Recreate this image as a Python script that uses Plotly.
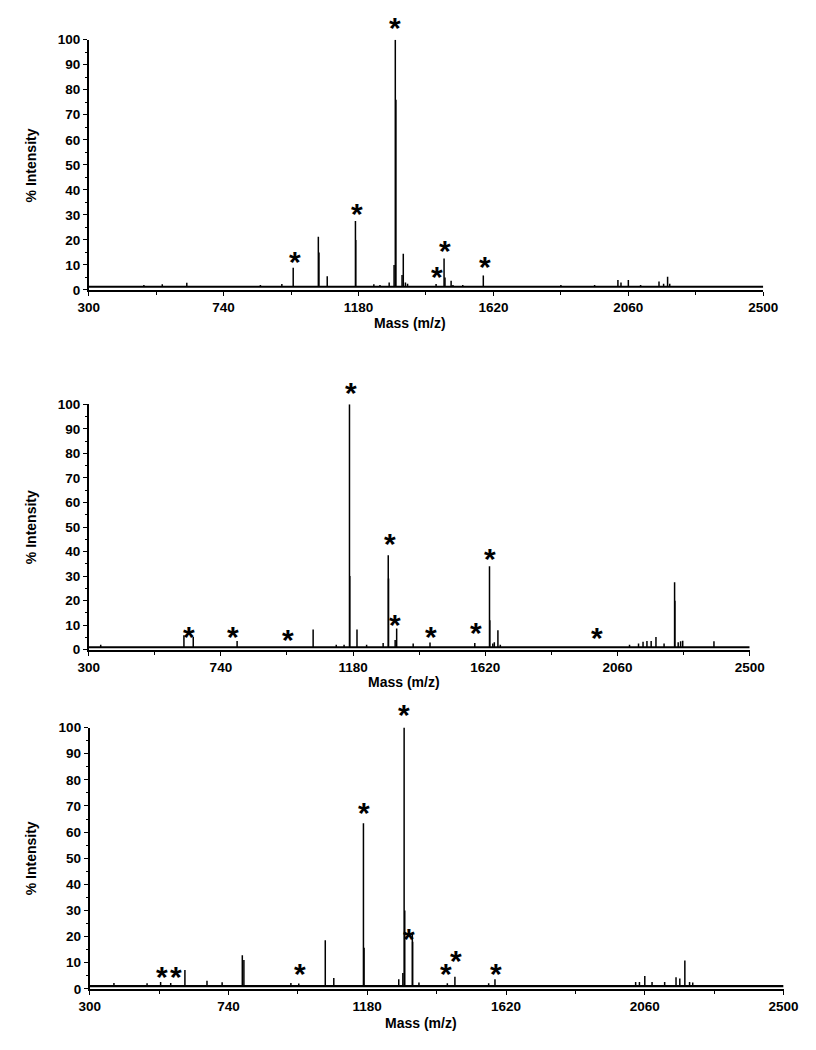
import plotly.graph_objects as go

# The page body has an 8px default margin, so the figure is drawn 8px in from the
# top-left corner of the window; page pixel positions are converted accordingly.
OFF = 8
W, H = 816 - OFF, 1050 - OFF
FONT = "Liberation Sans, Arial, sans-serif"

# ---------------- data ----------------
x_ticks = [300, 740, 1180, 1620, 2060, 2500]
x_minor = [520, 960, 1400, 1840, 2280]
y_ticks = [0, 10, 20, 30, 40, 50, 60, 70, 80, 90, 100]

# Panel 1
p1_mz = [480, 540, 620, 860, 930, 967, 1049, 1051, 1078, 1170, 1171, 1230, 1250, 1280,
         1296, 1300, 1302, 1322, 1326, 1333, 1340, 1433, 1459, 1462, 1482, 1488, 1520,
         1587, 1840, 1950, 2026, 2036, 2060, 2100, 2160, 2175, 2188, 2195]
p1_int = [2.0, 2.3, 2.9, 2.0, 2.4, 8.9, 21.3, 15.0, 5.5, 27.6, 20.0, 2.3, 2.0, 3.0,
          10.0, 100.0, 76.0, 6.0, 14.5, 3.0, 2.5, 2.4, 12.6, 5.0, 3.7, 2.0, 2.0,
          5.8, 2.0, 2.0, 4.0, 3.0, 4.0, 2.0, 3.4, 2.5, 5.3, 2.5]
p1_star_mz = [973, 1174, 1300, 1436, 1463, 1591]
p1_star_int = [13.7, 33.0, 107.4, 7.9, 18.3, 11.7]
p1_base = 1.3

# Panel 2
p2_mz = [340, 617, 648, 794, 1047, 1124, 1150, 1168, 1169, 1193, 1225, 1280, 1297, 1298,
         1320, 1325, 1380, 1436, 1585, 1634, 1635, 1645, 1650, 1662, 1670, 2100, 2130,
         2145, 2158, 2172, 2188, 2215, 2250, 2251, 2262, 2270, 2277, 2381]
p2_int = [2.0, 5.9, 5.2, 3.6, 8.2, 2.0, 2.0, 100.0, 30.0, 8.2, 2.0, 2.7, 38.5, 29.0,
          4.0, 8.6, 2.5, 2.9, 2.7, 34.0, 12.0, 2.5, 3.0, 7.9, 2.0, 2.0, 2.5,
          3.3, 3.6, 3.6, 5.2, 2.5, 27.5, 20.0, 3.0, 3.5, 3.7, 3.5]
p2_star_mz = [635, 779, 964, 1173, 1302, 1319, 1439, 1589, 1636, 1992]
p2_star_int = [7.9, 7.9, 6.6, 107.2, 45.7, 12.7, 7.9, 9.5, 39.7, 7.6]
p2_base = 1.0

# Panel 3
p3_mz = [377, 482, 525, 557, 602, 672, 720, 784, 789, 938, 963, 1047, 1074, 1168, 1170,
         1280, 1293, 1297, 1299, 1323, 1324, 1344, 1434, 1458, 1565, 1585, 2031, 2043,
         2060, 2083, 2123, 2159, 2171, 2187, 2202, 2212]
p3_int = [2.2, 2.1, 2.6, 2.2, 7.2, 3.1, 2.5, 12.8, 11.0, 2.2, 2.0, 18.6, 4.1, 63.4, 15.7,
          3.6, 6.0, 100.0, 30.0, 21.4, 18.0, 2.4, 2.1, 4.6, 2.1, 3.6, 2.6, 2.6,
          4.9, 2.6, 2.6, 4.4, 3.9, 10.8, 2.6, 2.4]
p3_star_mz = [529, 573, 968, 1171, 1298, 1314, 1430, 1461, 1587]
p3_star_int = [7.1, 7.1, 8.25, 69.9, 107.5, 21.5, 8.0, 13.25, 8.25]
p3_base = 1.0

x_title = "Mass (m/z)"
y_title = "% Intensity"

# ---------------- layout geometry (window pixels) ----------------
# (left, right, y-of-100, y-of-0)
panels_px = [(80, 777, 33, 287), (80, 763, 403, 652), (81, 798, 731, 996)]
ytitle_cy = [161, 528, 864]
xtitle_c = [(412, 320), (406, 685), (423, 1031)]


def px_x(v):
    return (v - OFF) / W


def px_y(v):
    return 1 - (v - OFF) / H


panels = [
    (p1_mz, p1_int, p1_star_mz, p1_star_int, p1_base),
    (p2_mz, p2_int, p2_star_mz, p2_star_int, p2_base),
    (p3_mz, p3_int, p3_star_mz, p3_star_int, p3_base),
]

fig = go.Figure()
annotations = []
tickfont = dict(family=FONT, size=13.5, color="black", weight="bold")
STAR = 30

for i, (mz, inten, smz, sint, base) in enumerate(panels):
    n = "" if i == 0 else str(i + 1)
    xa, ya = "x" + n, "y" + n
    l, r, t, b = panels_px[i]

    # baseline noise band
    fig.add_trace(go.Scatter(x=[x_ticks[0], x_ticks[-1]], y=[base, base], mode="lines",
                             line=dict(color="black", width=2.2), xaxis=xa, yaxis=ya,
                             showlegend=False, hoverinfo="skip"))
    # stick spectrum
    xs, ys = [], []
    for m, v in zip(mz, inten):
        xs += [m, m, None]
        ys += [base, v, None]
    fig.add_trace(go.Scatter(x=xs, y=ys, mode="lines",
                             line=dict(color="black", width=1.5), xaxis=xa, yaxis=ya,
                             showlegend=False, hoverinfo="skip", cliponaxis=False))

    fig.layout["xaxis" + n] = dict(
        domain=[px_x(l), px_x(r)], anchor=ya, range=[x_ticks[0], x_ticks[-1]],
        tickvals=x_ticks, ticks="outside", ticklen=4, tickwidth=1.2, tickcolor="black",
        showline=True, linecolor="black", linewidth=1.6, showgrid=False, zeroline=False,
        tickfont=tickfont,
        minor=dict(tickvals=x_minor, ticks="outside", ticklen=3,
                   tickcolor="black", tickwidth=1),
    )
    fig.layout["yaxis" + n] = dict(
        domain=[px_y(b), px_y(t)], anchor=xa, range=[0, 100],
        tickvals=y_ticks, ticks="outside", ticklen=4, tickwidth=1.2, tickcolor="black",
        showline=True, linecolor="black", linewidth=1.6, showgrid=False, zeroline=False,
        tickfont=tickfont,
        minor=dict(dtick=5, ticks="outside", ticklen=2, tickcolor="black", tickwidth=1),
    )

    for m, v in zip(smz, sint):
        annotations.append(dict(x=m, y=v / 100.0, xref=xa, yref=ya + " domain",
                                text="*", showarrow=False, yshift=-0.2 * STAR,
                                font=dict(family=FONT, size=STAR, color="black", weight="bold"),
                                xanchor="center", yanchor="middle"))

    annotations.append(dict(x=px_x(20), y=px_y(ytitle_cy[i]), xref="paper", yref="paper",
                            text=y_title, textangle=-90, showarrow=False,
                            font=dict(family=FONT, size=14, color="black", weight="bold"),
                            xanchor="center", yanchor="middle"))
    annotations.append(dict(x=px_x(xtitle_c[i][0]), y=px_y(xtitle_c[i][1]), xref="paper",
                            yref="paper", text=x_title, showarrow=False,
                            font=dict(family=FONT, size=14, color="black", weight="bold"),
                            xanchor="center", yanchor="middle"))

fig.update_layout(width=W, height=H, margin=dict(l=0, r=0, t=0, b=0),
                  paper_bgcolor="white", plot_bgcolor="white",
                  annotations=annotations, showlegend=False)

fig.write_html("out.html")
